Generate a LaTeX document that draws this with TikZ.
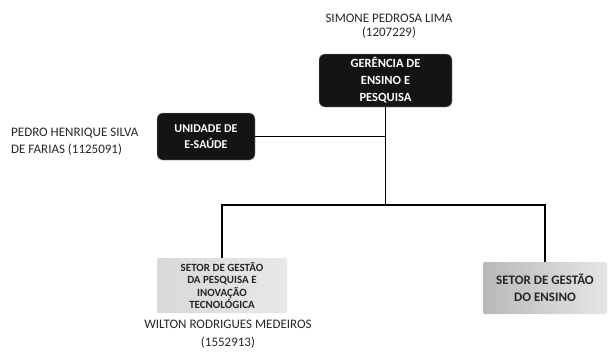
\documentclass[tikz,border=0pt]{standalone}
\usepackage{fontspec}
\setmainfont{Carlito}
\begin{document}
\begin{tikzpicture}[
	x=1pt, y=-1pt,
	chefe/.style={
		rectangle,
		rounded corners=2mm,
		draw=gray!60,
		fill=black!92,
		text=white,
		font=\bfseries\fontsize{12.5}{17}\selectfont,
		align=center,
		inner sep=0pt
	},
	setor/.style={
		rectangle,
		rounded corners=0.5mm,
		draw=none,
		text=black!85,
		font=\bfseries\fontsize{13}{17}\selectfont,
		align=center,
		inner sep=0pt
	},
	pessoa/.style={% names of the staff
		font=\fontsize{13}{14}\selectfont,
		text=black!85,
		inner sep=0pt
	},
	Linha/.style={
		line width=1.8pt,
	},
]
	\useasboundingbox (0,0) rectangle (608,354);

	\node [chefe, minimum width=133pt, minimum height=53pt] (ger) at (385.5,80.5) {GERÊNCIA DE\\ENSINO E\\PESQUISA};
	\node [pessoa, align=center] (simone) at (389,26.5) {SIMONE PEDROSA LIMA\\(1207229)};

	\node [chefe, minimum width=98pt, minimum height=47pt, font=\bfseries\fontsize{12}{16}\selectfont] (unid) at (206,136.5) {UNIDADE DE\\E-SAÚDE};
	\node [pessoa, align=left, anchor=west, font=\fontsize{13}{17}\selectfont] (pedro) at (11,141.5) {PEDRO HENRIQUE SILVA\\DE FARIAS (1125091)};

	\node [setor, minimum width=130pt, minimum height=55pt, left color=gray!30, middle color=gray!6, right color=gray!18, font=\bfseries\fontsize{11}{12.3}\selectfont] (pesq) at (222,285.5) {SETOR DE GESTÃO\\DA PESQUISA E\\INOVAÇÃO\\TECNOLÓGICA};
	\node [pessoa, align=center, font=\fontsize{13}{18}\selectfont] (wilton) at (228,334) {WILTON RODRIGUES MEDEIROS\\(1552913)};

	\node [setor, minimum width=124pt, minimum height=52pt, left color=gray!55, middle color=gray!28, right color=gray!20] (ens) at (545,288) {SETOR DE GESTÃO\\DO ENSINO};

	\coordinate (hub) at (385.5,205);

	\draw [Linha] (ger) -- (hub);
	\draw [Linha] (unid.east) -- (unid.east -| ger);
	\draw [Linha] (hub) -| (pesq);
	\draw [Linha] (hub) -| (ens);
\end{tikzpicture}
\end{document}
